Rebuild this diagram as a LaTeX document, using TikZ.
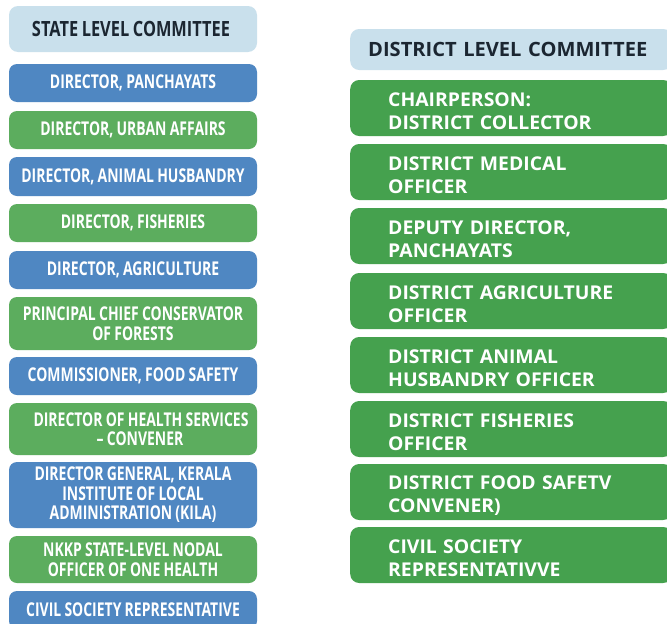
\documentclass[tikz,border=0pt]{standalone}
\usepackage{fontspec}
\setmainfont{Open Sans}
\newfontfamily\condfont{Open Sans}[FakeStretch=0.735, WordSpace=0.9]
\newfontfamily\hcondfont{Open Sans}[FakeStretch=0.78, WordSpace=0.85]
\newfontfamily\widefont{Open Sans}[FakeStretch=1.02]
\definecolor{hdrbg}{HTML}{C9E0EC}
\definecolor{hdrtxt}{HTML}{1B2631}
\definecolor{lblue}{HTML}{4F87C2}
\definecolor{lgreen}{HTML}{5CAD5E}
\definecolor{rgreen}{HTML}{45A14E}
\tikzset{
  lbox/.style={rounded corners=8pt, minimum width=248pt, align=center,
    inner xsep=2pt, inner ysep=0pt, text=white, font=\condfont\bfseries\fontsize{19}{19.5}\selectfont},
  lb/.style={lbox, fill=lblue},
  lg/.style={lbox, fill=lgreen},
  rbox/.style={rounded corners=9pt, fill=rgreen, anchor=west, minimum width=322pt, minimum height=56pt,
    text width=246pt, inner xsep=38pt, inner ysep=0pt, align=left, text=white,
    font=\widefont\bfseries\fontsize{19}{23}\selectfont},
  hdr/.style={rounded corners=9pt, fill=hdrbg, text=hdrtxt, inner sep=0pt}
}
\newcommand{\upshift}{\rule{0pt}{20.5pt}}
\begin{document}
\begin{tikzpicture}[x=1pt,y=-1pt]
\useasboundingbox (0,0) rectangle (667,624);
\clip (0,0) rectangle (667,624);
\fill[white] (0,0) rectangle (667,624);
% left column
\node[hdr, minimum width=248pt, minimum height=46pt, font=\hcondfont\bfseries\fontsize{21}{22}\selectfont] (sh) at (133,29) {STATE LEVEL COMMITTEE\hspace*{4pt}};
\node[lb, minimum height=38pt] (l1) at (133,83) {DIRECTOR, PANCHAYATS};
\node[lg, minimum height=38pt] (l2) at (133,130) {DIRECTOR, URBAN AFFAIRS};
\node[lb, minimum height=39pt] (l3) at (133,176.5) {DIRECTOR, ANIMAL HUSBANDRY};
\node[lg, minimum height=38pt] (l4) at (133,223) {DIRECTOR, FISHERIES};
\node[lb, minimum height=38pt] (l5) at (133,270) {DIRECTOR, AGRICULTURE};
\node[lg, minimum height=53pt] (l6) at (133,323.5) {PRINCIPAL CHIEF CONSERVATOR\\OF FORESTS};
\node[lb, minimum height=38pt] (l7) at (133,376) {COMMISSIONER, FOOD SAFETY};
\node[lg, minimum height=52pt] (l8) at (133,429) {\hspace*{16pt}DIRECTOR OF HEALTH SERVICES\\\hspace*{14pt}– CONVENER};
\node[lb, minimum height=66pt] (l9) at (133,495) {DIRECTOR GENERAL, KERALA\\INSTITUTE OF LOCAL\\ADMINISTRATION (KILA)};
\node[lg, minimum height=47pt] (l10) at (133,559.5) {NKKP STATE-LEVEL NODAL\\OFFICER OF ONE HEALTH};
\node[lb, minimum height=38pt] (l11) at (133,610) {CIVIL SOCIETY REPRESENTATIVE};
% right column
\node[hdr, anchor=west, minimum width=322pt, minimum height=41pt, text width=322pt, align=left, inner xsep=0pt, font=\widefont\bfseries\fontsize{19.7}{22}\selectfont] (dh) at (350,49.5) {\hspace*{18pt}DISTRICT LEVEL COMMITTEE};
\node[rbox] (r1) at (350,108) {\upshift CHAIRPERSON:\\DISTRICT COLLECTOR};
\node[rbox] (r2) at (350,172) {\upshift DISTRICT MEDICAL\\OFFICER};
\node[rbox] (r3) at (350,236) {\upshift DEPUTY DIRECTOR,\\PANCHAYATS};
\node[rbox] (r4) at (350,301) {\upshift DISTRICT AGRICULTURE\\OFFICER};
\node[rbox] (r5) at (350,365) {\upshift DISTRICT ANIMAL\\HUSBANDRY OFFICER};
\node[rbox] (r6) at (350,429) {\upshift DISTRICT FISHERIES\\OFFICER};
\node[rbox] (r7) at (350,492) {\upshift DISTRICT FOOD SAFETV\\CONVENER)};
\node[rbox] (r8) at (350,555) {\upshift CIVIL SOCIETY\\REPRESENTATIVVE};
\end{tikzpicture}
\end{document}
